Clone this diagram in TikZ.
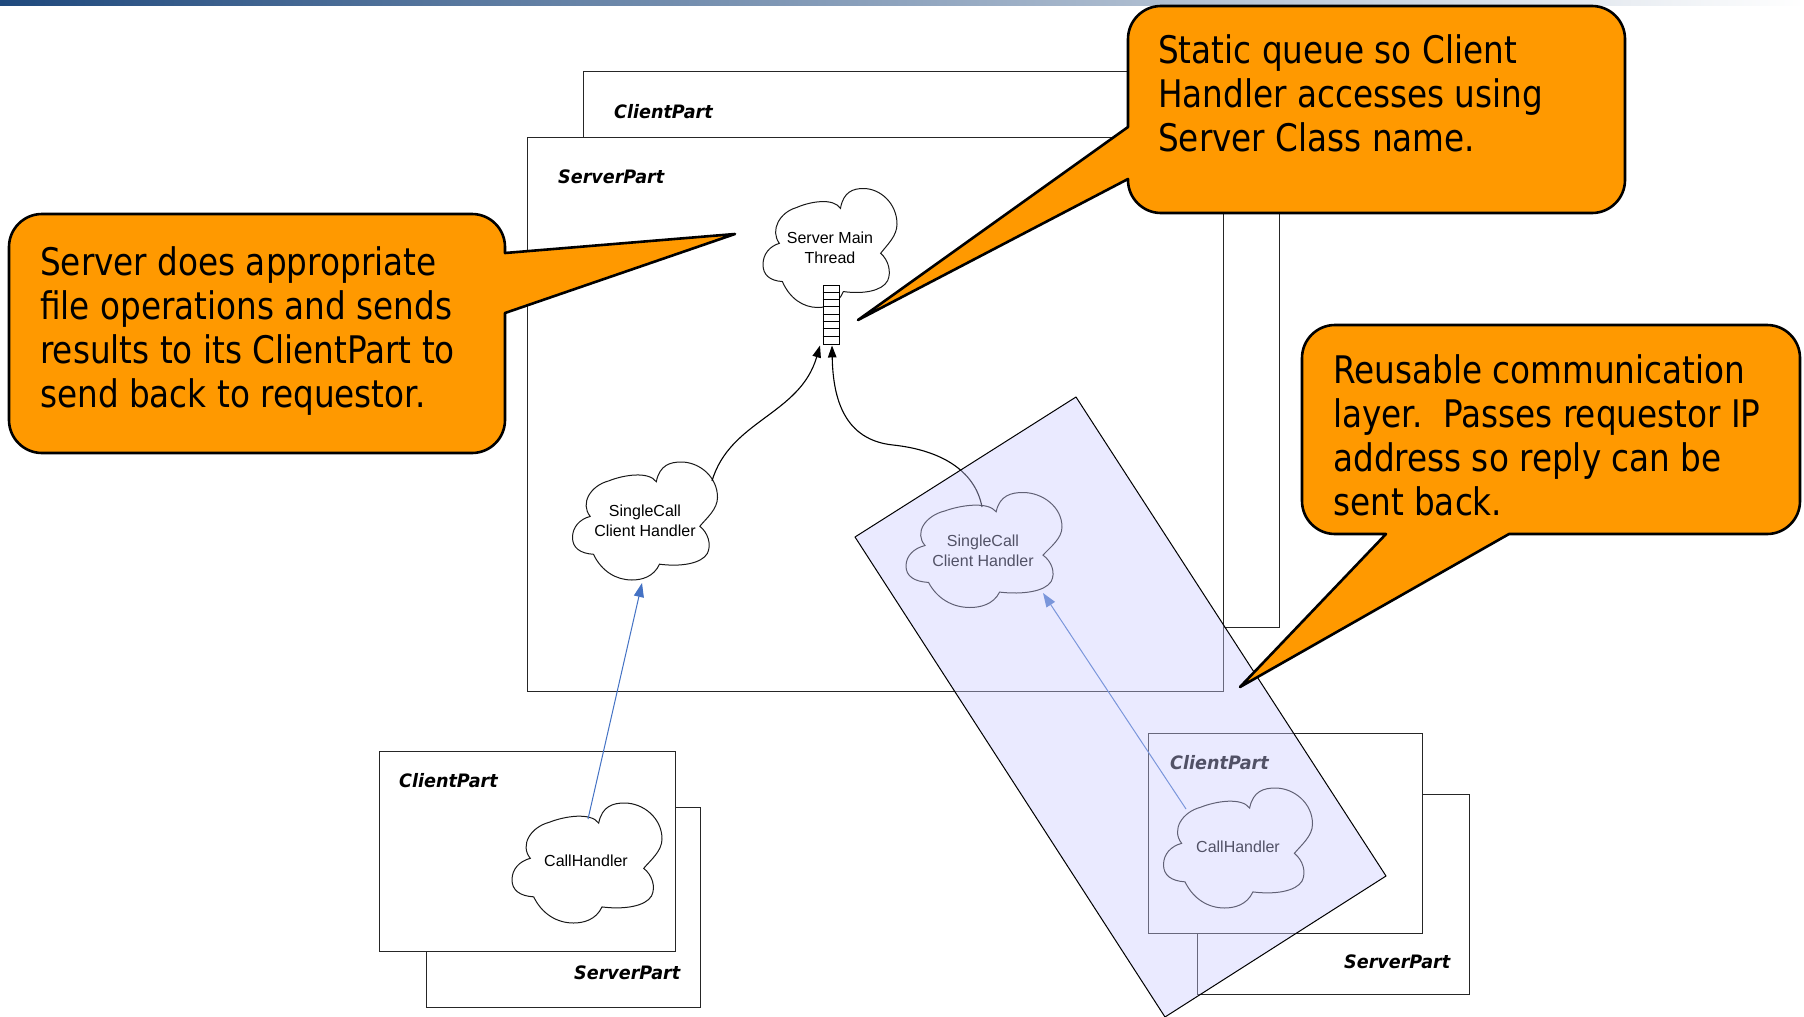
\documentclass[tikz,border=0pt]{standalone}
\usepackage{fontspec}
\usetikzlibrary{arrows.meta,calc}
\newfontfamily\callfont{DejaVu Sans}[FakeStretch=0.86]
\newfontfamily\lblfont{DejaVu Sans}[FakeStretch=0.95]
\newfontfamily\arialfont{Liberation Sans}
\definecolor{callorange}{RGB}{255,153,0}
\definecolor{lav}{RGB}{204,204,255}
\definecolor{arrowblue}{RGB}{68,114,196}
\definecolor{barblue}{RGB}{31,73,125}
% Visio-style cloud outline, normalised to [-1,1]x[-1,1]
\newcommand\vcloud[4]{%
  \draw[cloudline, shift={(#1,#2)}, xscale=#3, yscale=-#4]
    (0.156,0.665) .. controls (0.2,0.95) and (0.35,1.0) .. (0.5,1.0)
    .. controls (0.75,1.0) and (1.0,0.75) .. (1.0,0.4)
    .. controls (1.0,0.2) and (0.85,0.05) .. (0.756,-0.089)
    .. controls (0.87,-0.2) and (0.92,-0.4) .. (0.86,-0.55)
    .. controls (0.78,-0.72) and (0.5,-0.78) .. (0.2,-0.732)
    .. controls (0.12,-0.95) and (-0.05,-1.0) .. (-0.18,-1.0)
    .. controls (-0.4,-1.0) and (-0.6,-0.85) .. (-0.711,-0.564)
    .. controls (-0.9,-0.55) and (-1.0,-0.45) .. (-1.0,-0.28)
    .. controls (-1.0,-0.1) and (-0.9,0.03) .. (-0.756,0.078)
    .. controls (-0.9,0.3) and (-0.75,0.6) .. (-0.5,0.68)
    .. controls (-0.3,0.78) and (0.05,0.85) .. (0.156,0.665) -- cycle;}
\tikzset{
  part/.style={draw=black!85, line width=0.9pt, fill=white},
  partlbl/.style={font=\lblfont\bfseries\itshape\fontsize{18.5}{22}\selectfont, anchor=west, inner sep=0pt},
  cloudline/.style={draw=black!90, line width=1pt, fill=white},
  cloudtxt/.style={font=\arialfont\fontsize{16}{19.5}\selectfont, align=center, inner sep=0pt},
  flow/.style={line width=1.1pt, -{Triangle[length=12pt,width=8.5pt]}},
  callarrow/.style={draw=arrowblue, line width=1pt, -{Triangle[length=14pt,width=10pt]}, arrowblue},
  queuebox/.style={draw, fill=white, line width=0.9pt, minimum width=16pt, minimum height=59pt, inner sep=0pt},
  balloon/.style={fill=callorange, draw=black, line width=2.6pt, line join=round},
  calltext/.style={font=\callfont\fontsize{38}{44.2}\selectfont, anchor=base west, inner sep=0pt},
  lavfill/.style={fill=lav, fill opacity=0.4},
}
\begin{document}
\begin{tikzpicture}[x=1pt, y=-1pt]
\useasboundingbox (0,0) rectangle (1804,1017);
\fill[white] (0,0) rectangle (1804,1017);
% header bar
\shade[left color=barblue, right color=white] (0,0) rectangle (1804,5);

% main server host
\draw[part] (583,71) rectangle (1279,627);
\node[partlbl] (cpback) at (614,112) {ClientPart};
\draw[part] (527,137) rectangle (1223,691);
\node[partlbl] (spmain) at (558,177) {ServerPart};

\vcloud{830}{248}{67}{59.5}
\node[cloudtxt] (smt) at (830,248) {Server Main\\Thread};
\vcloud{645}{521}{72.5}{59}
\node[cloudtxt] (scl) at (645,521) {SingleCall\\Client Handler};
\vcloud{984}{550}{78}{57.5}
\node[cloudtxt] (scr) at (983,551) {SingleCall\\Client Handler};

\node[queuebox] (queue) at (831,314.5) {};
\foreach \k in {1,...,7}
  \draw[line width=0.8pt] ($(queue.north west)+(0,\k*7.375)$) -- ++(16,0);

\draw[flow] ($(scl.center)+(67,-40)$) .. controls (730,420) and (800,415) .. ($(queue.south)+(-11,1)$);
\draw[flow] ($(scr.center)+(-1,-44)$) .. controls (975,470) and (940,450) .. (893,445)
            .. controls (845,440) and (833,400) .. ($(queue.south)+(1,1)$);

% requesting host (left)
\draw[part] (426,807) rectangle (700,1007);
\node[partlbl] (spl) at (574,973) {ServerPart};
\draw[part] (379,751) rectangle (675,951);
\node[partlbl] (cpl) at (399,781) {ClientPart};
\vcloud{587}{863}{75}{60}
\node[cloudtxt] (chl) at (586,861) {CallHandler};
\draw[callarrow] ($(chl.center)+(2,-42)$) -- ($(scl.center)+(-3,62)$);

% requesting host (right)
\draw[part] (1197,794) rectangle (1469,994);
\node[partlbl] (spr) at (1344,962) {ServerPart};
\draw[part] (1148,733) rectangle (1422,933);
\node[partlbl] (cpr) at (1170,763) {ClientPart};
\vcloud{1238}{848}{74.5}{60}
\node[cloudtxt] (chr) at (1238,847) {CallHandler};
\draw[callarrow] ($(chr.center)+(-52,-38)$) -- ($(scr.center)+(60,42)$);

% communication layer overlay
\coordinate (la) at (855,537);
\coordinate (lb) at (1076,397);
\coordinate (lc) at (1386,876);
\coordinate (ld) at (1165,1017);
\fill[lavfill] (la) -- (lb) -- (lc) -- (ld) -- cycle;
\draw[line width=1pt, line join=round] (la) -- (lb) -- (lc) -- (ld) -- cycle;

% callouts
\draw[balloon] (42,214) -- (472,214) .. controls (490.2,214) and (505,228.8) .. (505,247)
  -- (505,253) -- (735,234) -- (505,313) -- (505,420)
  .. controls (505,438.2) and (490.2,453) .. (472,453) -- (42,453)
  .. controls (23.8,453) and (9,438.2) .. (9,420) -- (9,247)
  .. controls (9,228.8) and (23.8,214) .. (42,214) -- cycle;
\node[calltext] (c1) at (40,275) {\vtop{\baselineskip=44.2pt
  \hbox{Server does appropriate}\hbox{file operations and sends}
  \hbox{results to its ClientPart to}\hbox{send back to requestor.}}};

\draw[balloon] (1161,6) -- (1592,6) .. controls (1610.2,6) and (1625,20.8) .. (1625,39)
  -- (1625,180) .. controls (1625,198.2) and (1610.2,213) .. (1592,213) -- (1161,213)
  .. controls (1142.8,213) and (1128,198.2) .. (1128,180)
  -- (1128,179) -- (858,320) -- (1128,127) -- (1128,39)
  .. controls (1128,20.8) and (1142.8,6) .. (1161,6) -- cycle;
\node[calltext] (c2) at (1158,63) {\vtop{\baselineskip=44.2pt
  \hbox{Static queue so Client}\hbox{Handler accesses using}
  \hbox{Server Class name.}}};

\draw[balloon] (1335,325) -- (1767,325) .. controls (1785.2,325) and (1800,339.8) .. (1800,358)
  -- (1800,501) .. controls (1800,519.2) and (1785.2,534) .. (1767,534)
  -- (1509,534) -- (1240,687) -- (1386,534) -- (1335,534)
  .. controls (1316.8,534) and (1302,519.2) .. (1302,501) -- (1302,358)
  .. controls (1302,339.8) and (1316.8,325) .. (1335,325) -- cycle;
\node[calltext] (c3) at (1333,383) {\vtop{\baselineskip=44.2pt
  \hbox{Reusable communication}\hbox{layer.\ \ Passes requestor IP}
  \hbox{address so reply can be}\hbox{sent back.}}};
\end{tikzpicture}
\end{document}
